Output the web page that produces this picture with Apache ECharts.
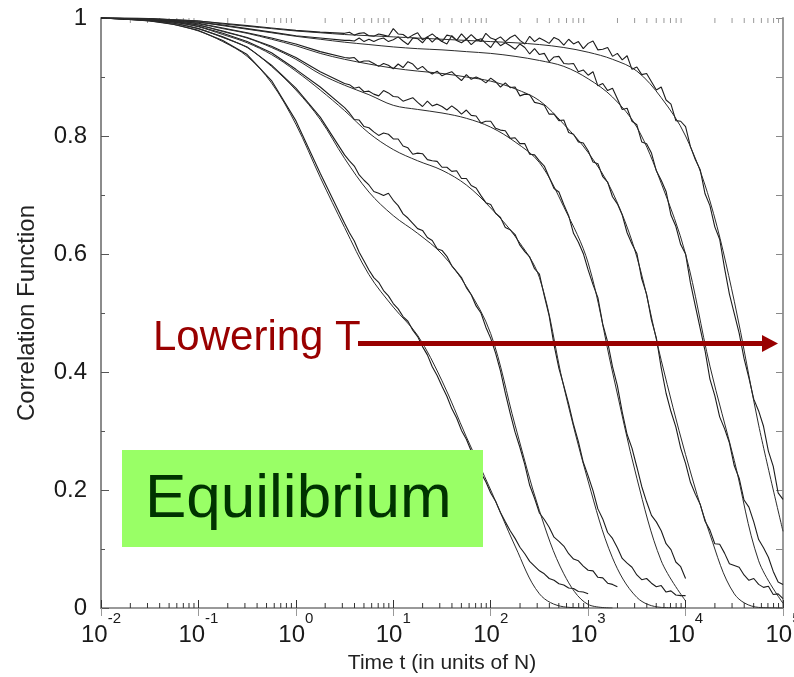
<!DOCTYPE html>
<html>
<head>
<meta charset="utf-8">
<script src="https://cdn.jsdelivr.net/npm/echarts@6/dist/echarts.min.js"></script>
<style>
html,body{margin:0;padding:0;background:#fff;}
#chart{width:794px;height:677px;}
</style>
</head>
<body>
<div id="chart"></div>
<script>
// Time grid (log10 of t, in units of N) for the smooth fitted curves
const FIT_LOGT = [-2,-1.75,-1.5,-1.25,-1,-0.75,-0.5,-0.25,0,0.25,0.5,0.75,1,1.25,1.5,1.75,2,2.25,2.5,2.75,3,3.25,3.5,3.75,4,4.25,4.5,4.75,5];

// Fitted correlation functions, highest temperature first
const fitT1 = [1.000,.998,.995,.989,.978,.960,.935,.890,.820,.730,.645,.565,.510,.462,.385,.290,.200,.105,.024,.002,.000];
const fitT2 = [1.000,.998,.996,.991,.982,.967,.950,.918,.878,.828,.762,.705,.665,.635,.600,.545,.465,.310,.165,.058,.006,.000];
const fitT3 = [1.000,.999,.997,.993,.985,.972,.958,.938,.910,.878,.843,.805,.777,.758,.742,.717,.678,.630,.560,.375,.215,.085,.018,.001,.000];
const fitT4 = [1.000,.999,.997,.994,.988,.977,.966,.950,.930,.905,.886,.870,.852,.845,.839,.830,.815,.790,.755,.680,.585,.400,.220,.080,.012];
const fitT5 = [1.000,.999,.998,.995,.990,.982,.974,.964,.953,.940,.930,.922,.915,.910,.906,.900,.893,.880,.860,.820,.772,.705,.595,.420,.260,.125,.024,.001,.000];
const fitT6 = [1.000,.999,.998,.996,.993,.987,.981,.975,.969,.964,.959,.955,.951,.948,.946,.943,.940,.935,.928,.918,.897,.866,.815,.720,.600,.410,.250,.080,.008];
const fitT7 = [1.000,1.000,.999,.997,.995,.990,.986,.982,.978,.975,.972,.970,.968,.966,.964,.962,.960,.958,.955,.950,.942,.930,.910,.865,.800,.690,.520,.310,.130];

// Time grid (log10 of t) for the simulation runs
const DATA_LOGT = [-2,-1.75,-1.5,-1.25,-1,-0.75,-0.5,-0.25,0,0.25,0.5,
  0.55,0.6,0.65,0.7,0.75,0.8,0.85,0.9,0.95,1,
  1.05,1.1,1.15,1.2,1.25,1.3,1.35,1.4,1.45,1.5,
  1.55,1.6,1.65,1.7,1.75,1.8,1.85,1.9,1.95,2,
  2.05,2.1,2.15,2.2,2.25,2.3,2.35,2.4,2.45,2.5,
  2.55,2.6,2.65,2.7,2.75,2.8,2.85,2.9,2.95,3,
  3.05,3.1,3.15,3.2,3.25,3.3,3.35,3.4,3.45,3.5,
  3.55,3.6,3.65,3.7,3.75,3.8,3.85,3.9,3.95,4,
  4.05,4.1,4.15,4.2,4.25,4.3,4.35,4.4,4.45,4.5,
  4.55,4.6,4.65,4.7,4.75,4.8,4.85,4.9,4.95,5];

// Measured correlation functions (simulation runs), highest temperature first
const runT1 = [1.000,.998,.995,.989,.979,.962,.938,.894,.826,.737,.652,
  .636,.622,.603,.588,.573,.560,.552,.538,.529,.516,
  .507,.494,.486,.471,.460,.443,.429,.409,.394,.376,
  .359,.338,.322,.301,.286,.266,.251,.229,.214,.195,
  .181,.162,.146,.131,.118,.103,.092,.079,.071,.063,
  .058,.050,.047,.041,.039,.034,.033,.028,.027,.024];
const runT2 = [1.000,.998,.996,.991,.982,.968,.951,.920,.881,.832,.768,
  .758,.749,.734,.725,.717,.706,.703,.699,.703,.691,
  .682,.668,.661,.652,.643,.640,.628,.623,.609,.606,
  .596,.580,.570,.560,.543,.531,.512,.500,.476,.457,
  .432,.402,.364,.330,.298,.272,.243,.208,.186,.161,
  .150,.137,.120,.113,.105,.092,.083,.080,.071,.064,
  .063,.052,.051,.042,.040,.036];
const runT3 = [1.000,.999,.997,.993,.986,.974,.960,.941,.913,.883,.848,
  .839,.828,.827,.816,.814,.807,.801,.805,.803,.795,
  .795,.783,.780,.769,.771,.770,.760,.758,.757,.747,
  .747,.740,.741,.728,.728,.716,.712,.699,.687,.684,
  .669,.662,.645,.641,.633,.615,.604,.595,.575,.566,
  .529,.495,.446,.406,.377,.346,.311,.282,.247,.224,
  .199,.168,.151,.128,.118,.102,.084,.076,.069,.056,
  .048,.050,.042,.036,.038,.027,.029,.022,.021,.021];
const runT4 = [1.000,.999,.997,.994,.988,.978,.967,.952,.933,.909,.889,
  .887,.881,.883,.875,.876,.871,.868,.877,.873,.867,
  .866,.859,.862,.865,.857,.850,.859,.851,.854,.850,
  .844,.851,.845,.837,.844,.835,.834,.822,.825,.825,
  .813,.810,.809,.796,.797,.787,.787,.769,.768,.758,
  .749,.730,.711,.705,.684,.665,.635,.620,.601,.573,
  .548,.526,.481,.451,.409,.377,.332,.294,.271,.239,
  .206,.180,.157,.146,.131,.109,.099,.078,.070,.050];
const runT5 = [1.000,.999,.998,.995,.991,.983,.975,.966,.956,.943,.933,
  .932,.933,.925,.927,.927,.923,.918,.923,.920,.914,
  .922,.916,.926,.922,.913,.918,.910,.905,.910,.902,
  .906,.909,.901,.894,.904,.896,.900,.896,.890,.898,
  .892,.883,.890,.882,.883,.868,.871,.870,.857,.855,
  .852,.837,.837,.826,.827,.806,.803,.790,.788,.775,
  .756,.753,.731,.722,.697,.685,.666,.636,.617,.601,
  .558,.532,.488,.458,.407,.364,.333,.307,.271,.245,
  .213,.193,.176,.147,.132,.109,.108,.093,.075,.072,
  .069,.056,.047,.050,.040,.035,.037,.023,.024,.016];
const runT6 = [1.000,.999,.998,.996,.993,.988,.982,.976,.970,.966,.962,
  .962,.961,.966,.960,.964,.960,.964,.966,.960,.963,
  .968,.961,.955,.966,.965,.958,.968,.959,.967,.960,
  .956,.970,.962,.958,.964,.955,.962,.965,.957,.950,
  .962,.953,.958,.953,.947,.956,.950,.939,.948,.938,
  .940,.926,.934,.935,.923,.922,.923,.909,.912,.903,
  .909,.885,.889,.877,.881,.863,.845,.847,.825,.819,
  .790,.787,.771,.741,.725,.706,.666,.647,.616,.600,
  .551,.512,.474,.436,.388,.360,.324,.304,.280,.241,
  .220,.183,.171,.146,.116,.102,.086,.062,.044,.040];
const runT7 = [1.000,1.000,.999,.997,.995,.991,.987,.983,.979,.976,.974,
  .976,.971,.974,.975,.970,.969,.973,.971,.969,.982,
  .973,.972,.966,.971,.975,.963,.968,.973,.966,.960,
  .971,.969,.962,.973,.964,.972,.964,.960,.974,.966,
  .963,.968,.960,.967,.971,.962,.956,.969,.960,.966,
  .962,.957,.967,.963,.954,.964,.956,.960,.948,.957,
  .961,.946,.947,.950,.935,.940,.929,.936,.913,.917,
  .904,.906,.892,.878,.883,.861,.854,.826,.825,.816,
  .782,.760,.743,.702,.682,.646,.625,.576,.532,.499,
  .466,.423,.390,.354,.334,.308,.266,.240,.195,.184];

// Axis decoration: decades and the in-between minor tick multipliers
const X_DECADES = [-2,-1,0,1,2,3,4];
const MINOR_STEPS = [2,3,4,5,6,7,8,9];

const FONT = '"Liberation Sans", Arial, Helvetica, sans-serif';

function toPairs(logT, vals) {
  return vals.map((v, i) => [Math.pow(10, logT[i]), v]);
}

const runs = [runT1, runT2, runT3, runT4, runT5, runT6, runT7];
const fits = [fitT1, fitT2, fitT3, fitT4, fitT5, fitT6, fitT7];

const series = [];
runs.forEach((vals, k) => {
  series.push({
    type: 'line', name: 'run ' + (k + 1), data: toPairs(DATA_LOGT, vals),
    symbol: 'none', smooth: false, silent: true, z: 3,
    lineStyle: { color: '#1c1c1c', width: 1.1 }
  });
});
fits.forEach((vals, k) => {
  series.push({
    type: 'line', name: 'fit ' + (k + 1), data: toPairs(FIT_LOGT, vals),
    symbol: 'none', smooth: 0.35, silent: true, z: 4,
    lineStyle: { color: '#2b2b2b', width: 1 }
  });
});

// Minor ticks on the bottom and top time axes (2..9 within each decade)
const minorTicks = [];
X_DECADES.forEach(d => MINOR_STEPS.forEach(m => minorTicks.push([m * Math.pow(10, d), 0])));
series.push({
  type: 'custom', silent: true, clip: false, z: 2,
  data: minorTicks,
  renderItem: function (params, api) {
    const x = api.value(0);
    const b = api.coord([x, 0]);
    const t = api.coord([x, 1]);
    return {
      type: 'group',
      children: [
        { type: 'line', shape: { x1: b[0], y1: b[1], x2: b[0], y2: b[1] - 5 }, style: { stroke: '#333', lineWidth: 1 } },
        { type: 'line', shape: { x1: t[0], y1: t[1], x2: t[0], y2: t[1] + 5 }, style: { stroke: '#999', lineWidth: 1 } }
      ]
    };
  }
});

function expLabel(value) {
  const e = Math.round(Math.log10(value));
  return '{b|10}{s|' + e + '}';
}

const option = {
  animation: false,
  backgroundColor: '#fff',
  textStyle: { fontFamily: FONT },
  grid: { left: 101, right: 11, top: 18, bottom: 69, containLabel: false, outerBoundsMode: 'none' },
  xAxis: [{
    type: 'log', logBase: 10, min: 0.01, max: 100000, splitNumber: 7, position: 'bottom',
    axisLine: { show: true, lineStyle: { color: '#333', width: 1.5 } },
    axisTick: { show: true, inside: true, length: 8, lineStyle: { color: '#333', width: 1 } },
    minorTick: { show: false }, splitLine: { show: false },
    axisLabel: {
      margin: 3, showMinLabel: true, showMaxLabel: true, formatter: expLabel,
      rich: {
        b: { fontSize: 24, lineHeight: 36, verticalAlign: 'bottom', color: '#1a1a1a', fontFamily: FONT },
        s: { fontSize: 15, lineHeight: 15, verticalAlign: 'top', color: '#1a1a1a', fontFamily: FONT }
      }
    },
    name: 'Time t (in units of N)', nameLocation: 'middle', nameGap: 45,
    nameTextStyle: { fontSize: 21, color: '#222', fontFamily: FONT }
  }, {
    type: 'log', logBase: 10, min: 0.01, max: 100000, splitNumber: 7, position: 'top',
    axisLine: { show: true, lineStyle: { color: '#999', width: 2 } },
    axisTick: { show: true, inside: true, length: 8, lineStyle: { color: '#999', width: 1 } },
    axisLabel: { show: false }, splitLine: { show: false }
  }],
  yAxis: [{
    type: 'value', min: 0, max: 1, interval: 0.2, position: 'left',
    axisLine: { show: true, lineStyle: { color: '#8c8c8c', width: 2 } },
    axisTick: { show: true, inside: true, length: 8, lineStyle: { color: '#555', width: 1 } },
    minorTick: { show: true, splitNumber: 2, length: 4, lineStyle: { color: '#555', width: 1 } },
    splitLine: { show: false },
    axisLabel: {
      margin: 14, fontSize: 24, color: '#1a1a1a', fontFamily: FONT,
      formatter: v => (v === 0 ? '0' : (Math.abs(v - 1) < 1e-9 ? '1' : v.toFixed(1)))
    },
    name: 'Correlation Function', nameLocation: 'middle', nameGap: 62,
    nameTextStyle: { fontSize: 24, color: '#222', fontFamily: FONT }
  }, {
    type: 'value', min: 0, max: 1, interval: 0.1, position: 'right',
    axisLine: { show: true, lineStyle: { color: '#999', width: 2 } },
    axisTick: { show: true, inside: true, length: 7, lineStyle: { color: '#888', width: 1 } },
    axisLabel: { show: false }, splitLine: { show: false }
  }],
  graphic: [
    { type: 'rect', z: 100, shape: { x: 122, y: 450, width: 361, height: 97 }, style: { fill: '#99ff66' } },
    { type: 'text', z: 101, x: 145, y: 500,
      style: { text: 'Equilibrium', font: '62px ' + FONT, fill: '#003300', align: 'left', verticalAlign: 'middle' } },
    { type: 'text', z: 101, x: 153, y: 338,
      style: { text: 'Lowering T', font: '42px ' + FONT, fill: '#990000', align: 'left', verticalAlign: 'middle' } },
    { type: 'rect', z: 101, shape: { x: 358, y: 341, width: 406, height: 5 }, style: { fill: '#990000' } },
    { type: 'polygon', z: 101, shape: { points: [[762, 335], [778, 343.5], [762, 352]] }, style: { fill: '#990000' } }
  ],
  series: series
};

const chart = echarts.init(document.getElementById('chart'), null, { renderer: 'canvas' });
chart.setOption(option);
</script>
</body>
</html>
